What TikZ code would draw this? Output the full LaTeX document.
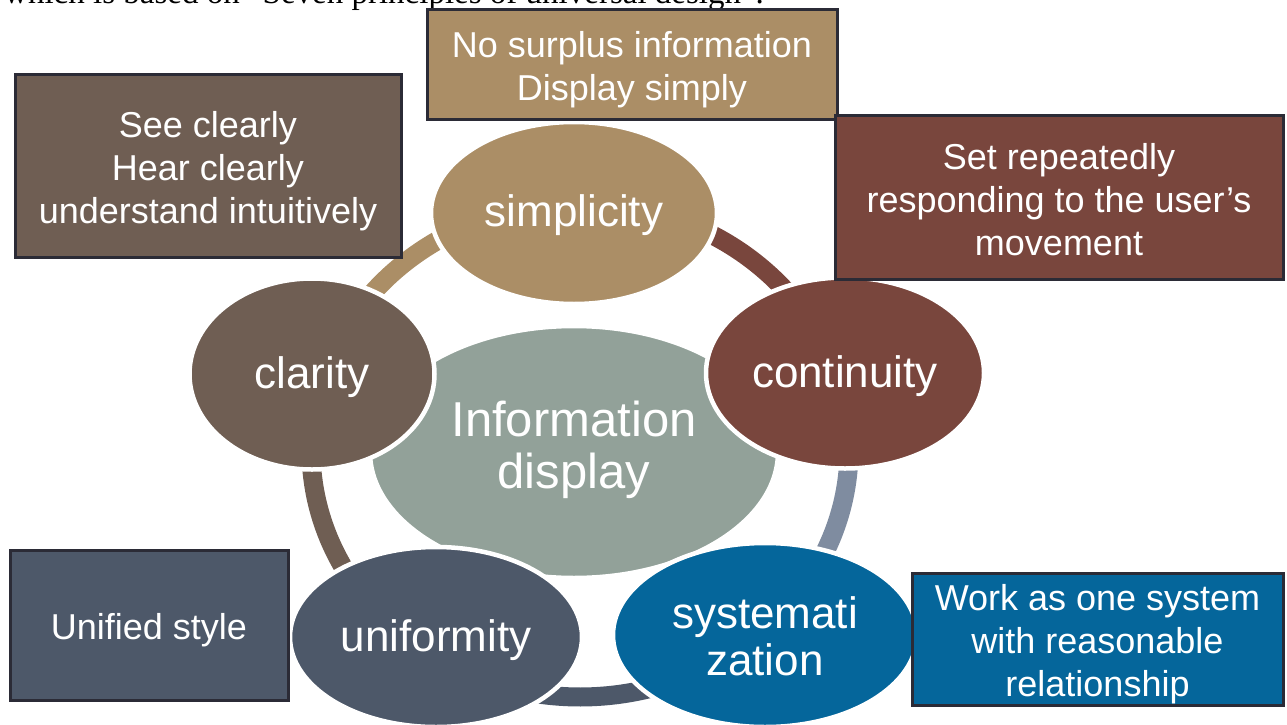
\documentclass[tikz,border=0pt]{standalone}
\usepackage{fontspec}
\setmainfont{Liberation Sans}
\newfontfamily\bodyserif{Liberation Serif}
\usetikzlibrary{shapes.geometric}
\definecolor{tanc}{HTML}{AB8E66}
\definecolor{clarc}{HTML}{6F5E53}
\definecolor{contc}{HTML}{79463D}
\definecolor{unifc}{HTML}{4D5869}
\definecolor{systc}{HTML}{05669B}
\definecolor{hubc}{HTML}{92A199}
\definecolor{linkc}{HTML}{7F8CA0}
\definecolor{edgec}{HTML}{2B2B36}
% invisible struts that fix the height above the first line / depth below the last
\newcommand\toph[1]{\rule{0pt}{#1}}
\newcommand\botd[1]{\rule[-#1]{0pt}{#1}}
\begin{document}
\begin{tikzpicture}[x=1pt,y=-1pt,
  ringarc/.style={line width=19pt, line cap=butt},
  petal/.style={ellipse, draw=white, line width=4.5pt, inner sep=0pt,
    text=white, align=center, font=\fontsize{44}{47}\selectfont},
  hub/.style={petal, font=\fontsize{49}{52}\selectfont},
  note/.style={rectangle, draw=edgec, line width=3pt, inner sep=0pt,
    text=white, align=center, font=\fontsize{36}{43}\selectfont},
]
\useasboundingbox (0,0) rectangle (1287,725);
\clip (0,0) rectangle (1287,725);

% running text line above the figure
\node[anchor=base west, inner sep=0pt, font=\bodyserif\fontsize{33}{38}\selectfont]
  (intro) at (4,4) {which is based on “Seven principles of universal design”.};

% ring behind the petals: centre (580,450), radii 269 x 247
\def\ringpath#1#2{plot[domain=#1:#2, samples=80] ({580+269*cos(\x)}, {450+247*sin(\x)})}
\draw[ringarc, contc] \ringpath{-91.3}{-17.6};
\draw[ringarc, linkc] \ringpath{-17.6}{47.4};
\draw[ringarc, unifc] \ringpath{47.4}{125.4};
\draw[ringarc, clarc] \ringpath{125.4}{197};
\draw[ringarc, tanc]  \ringpath{197}{268.7};

% centre
\node[hub, fill=hubc, minimum width=408, minimum height=252] (hub) at (574,452)
  {Information\\display\botd{14pt}};

% petals
\node[petal, fill=tanc,  minimum width=286, minimum height=182] (simp) at (574,213) {\toph{37pt}simplicity};
\node[petal, fill=clarc, minimum width=245, minimum height=191] (clar) at (312,374) {\toph{38pt}clarity};
\node[petal, fill=contc, minimum width=278, minimum height=191] (cont) at (845,373) {\toph{38pt}continuity};
\node[petal, fill=unifc, minimum width=292, minimum height=180] (unif) at (436,637) {\toph{38pt}uniformity};
\node[petal, fill=systc, minimum width=304, minimum height=184] (syst) at (765,635) {\toph{34pt}systemati\\zation};

% notes
\node[note, fill=tanc,  minimum width=410, minimum height=109] (nsimp) at (632,64.5)
  {\toph{36pt}No surplus information\\Display simply};
\node[note, fill=clarc, minimum width=386, minimum height=183] (nclar) at (208,165.5)
  {\toph{38pt}See clearly\\Hear clearly\\understand intuitively};
\node[note, fill=contc, minimum width=448, minimum height=164] (ncont) at (1059,197)
  {\toph{32pt}Set repeatedly\\responding to the user’s\\movement};
\node[note, fill=unifc, minimum width=278, minimum height=150] (nunif) at (149,625)
  {\toph{36pt}Unified style};
\node[note, fill=systc, minimum width=371, minimum height=132] (nsyst) at (1097.5,639)
  {\toph{36pt}Work as one system\\with reasonable\\relationship};
\end{tikzpicture}
\end{document}
